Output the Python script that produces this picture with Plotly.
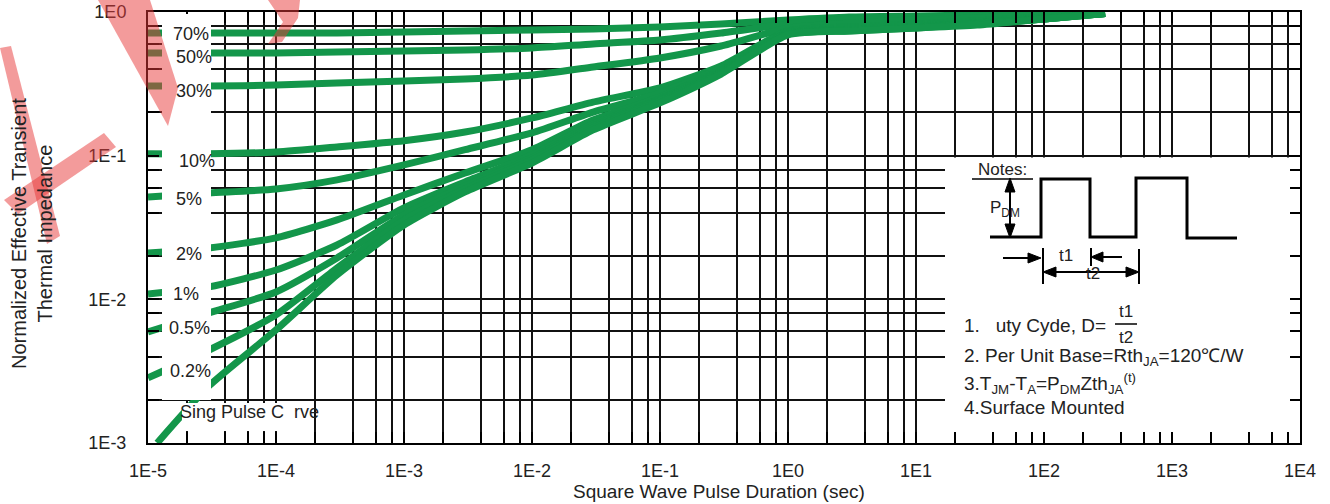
import plotly.graph_objects as go

# ---------------- data ----------------
T = [1e-5, 3e-5, 1e-4, 3e-4, 1e-3, 3e-3, 1e-2, 3e-2, 0.1, 0.3, 1, 3, 10, 30, 100, 300]
T_SINGLE = [1.18e-5, 3e-5, 1e-4, 3e-4, 1e-3, 3e-3, 1e-2, 3e-2, 0.1, 0.3, 1, 3, 10, 30, 100, 300]

Z_70 = [0.714, 0.714, 0.714, 0.714, 0.726, 0.738, 0.749, 0.761, 0.786, 0.825, 0.880, 0.923, 0.938, 0.953, 0.968, 0.975]
Z_50 = [0.519, 0.519, 0.519, 0.527, 0.535, 0.544, 0.562, 0.599, 0.638, 0.714, 0.825, 0.894, 0.923, 0.938, 0.968, 0.975]
Z_30 = [0.305, 0.305, 0.310, 0.321, 0.331, 0.342, 0.364, 0.414, 0.479, 0.580, 0.774, 0.838, 0.880, 0.908, 0.953, 0.975]
Z_10 = [0.103, 0.103, 0.106, 0.115, 0.127, 0.146, 0.183, 0.236, 0.296, 0.421, 0.738, 0.786, 0.825, 0.866, 0.923, 0.975]
Z_5 = [0.0516, 0.0550, 0.0586, 0.0678, 0.0862, 0.110, 0.144, 0.201, 0.273, 0.408, 0.726, 0.774, 0.812, 0.852, 0.908, 0.975]
Z_2 = [0.0210, 0.0228, 0.0268, 0.0357, 0.0533, 0.0758, 0.110, 0.177, 0.256, 0.395, 0.714, 0.761, 0.799, 0.838, 0.908, 0.975]
Z_1 = [0.0109, 0.0122, 0.0160, 0.0239, 0.0433, 0.0656, 0.101, 0.166, 0.248, 0.388, 0.714, 0.749, 0.786, 0.838, 0.894, 0.975]
Z_05 = [0.00593, 0.00804, 0.01126, 0.0194, 0.0387, 0.0615, 0.0964, 0.161, 0.244, 0.382, 0.703, 0.749, 0.786, 0.825, 0.894, 0.975]
Z_02 = [0.00284, 0.00444, 0.00779, 0.0165, 0.0357, 0.0586, 0.0933, 0.156, 0.240, 0.376, 0.703, 0.738, 0.774, 0.825, 0.894, 0.975]
Z_SINGLE = [0.00100, 0.00250, 0.00612, 0.0148, 0.0329, 0.0559, 0.0889, 0.151, 0.233, 0.370, 0.692, 0.738, 0.774, 0.812, 0.894, 0.975]

SERIES = [
    ("70%", T, Z_70), ("50%", T, Z_50), ("30%", T, Z_30), ("10%", T, Z_10),
    ("5%", T, Z_5), ("2%", T, Z_2), ("1%", T, Z_1), ("0.5%", T, Z_05),
    ("0.2%", T, Z_02), ("Single Pulse", T_SINGLE, Z_SINGLE),
]

CURVE_LABELS = ["70%", "50%", "30%", "10%", "5%", "2%", "1%", "0.5%", "0.2%", "Sing Pulse C  rve"]

X_TICK_VALS = [1e-5, 1e-4, 1e-3, 1e-2, 1e-1, 1e0, 1e1, 1e2, 1e3, 1e4]
X_TICK_TEXT = ["1E-5", "1E-4", "1E-3", "1E-2", "1E-1", "1E0", "1E1", "1E2", "1E3", "1E4"]
Y_TICK_VALS = [1e-3, 1e-2, 1e-1, 1e0]
Y_TICK_TEXT = ["1E-3", "1E-2", "1E-1", "1E0"]
X_MINOR = [m * 10.0 ** e for e in range(-5, 4) for m in (2, 4, 6, 8)]
Y_MINOR = [m * 10.0 ** e for e in range(-3, 0) for m in (2, 4, 6, 8)]

X_TITLE = "Square Wave Pulse Duration (sec)"
Y_TITLE = "Normalized Effective Transient<br>Thermal Impedance"

NOTES = [
    "1.   uty Cyde, D=",
    "2. Per Unit Base=Rth<sub>JA</sub>=120℃/W",
    "3.T<sub>JM</sub>-T<sub>A</sub>=P<sub>DM</sub>Zth<sub>JA</sub><sup>(t)</sup>",
    "4.Surface Mounted",
]

# ---------------- styling / layout ----------------
W, H = 1330, 504
L, R, TOP, BOT = 148, 1300, 12, 443
GREEN = "#13964a"
FONT = "Liberation Sans, Arial, sans-serif"
TXT = "#222222"


def PX(x):
    return (x - L) / (R - L)


def PY(y):
    return (BOT - y) / (BOT - TOP)


fig = go.Figure()
for name, xs, ys in SERIES:
    fig.add_trace(go.Scatter(x=xs, y=ys, mode="lines", name=name,
                             line=dict(color=GREEN, width=7, shape="spline", smoothing=0.6),
                             hoverinfo="skip", showlegend=False))

shapes = []


def rect(x0, x1, y0, y1):
    shapes.append(dict(type="rect", xref="paper", yref="paper", x0=PX(x0), x1=PX(x1), y0=PY(y1), y1=PY(y0),
                       fillcolor="white", line=dict(width=0), layer="above"))


rect(162, 211, 14, 400)      # column behind the duty labels
rect(182, 292, 403, 431)     # behind the single pulse label
rect(945, 1290, 157.5, 432)  # notes box


def path(points, closed=False):
    s = "M " + " L ".join(f"{PX(x):.5f},{PY(y):.5f}" for x, y in points)
    return s + (" Z" if closed else "")


def line(points, width=2):
    shapes.append(dict(type="path", xref="paper", yref="paper", path=path(points),
                       line=dict(color="black", width=width), layer="above"))


def tri(points):
    shapes.append(dict(type="path", xref="paper", yref="paper", path=path(points, True),
                       fillcolor="black", line=dict(color="black", width=1), layer="above"))


# pulse waveform
line([(990, 237), (1041, 237), (1041, 179), (1090, 179), (1090, 237), (1136, 237),
      (1136, 178), (1187, 178), (1187, 238), (1237, 238)], width=3)
# P_DM double arrow
line([(1010, 188), (1010, 228)], 2)
tri([(1005, 192), (1015, 192), (1010, 178)])
tri([(1005, 224), (1015, 224), (1010, 238)])
# t1 markers
line([(1003, 258), (1030, 258)], 2)
tri([(1028, 253), (1028, 263), (1041, 258)])
line([(1043, 248), (1043, 284)], 2)
line([(1102, 257), (1122, 257)], 2)
tri([(1103, 252), (1103, 262), (1091, 257)])
line([(1091, 248), (1091, 266)], 2)
# t2 double arrow
line([(1052, 272), (1130, 272)], 2)
tri([(1043, 272), (1056, 267), (1056, 277)])
tri([(1139, 272), (1126, 267), (1126, 277)])
line([(1139, 249), (1139, 284)], 2)
# Notes underline and fraction bar
line([(972, 179), (1033, 179)], 1.5)
line([(1115, 324), (1137, 324)], 1.5)

# watermark strokes
WM = "rgba(232,55,55,0.5)"
for poly in [
    [(0, 48), (11, 46), (60, 236), (47, 244)],
    [(98, 0), (150, 0), (178, 88), (168, 126)],
    [(104, 133), (116, 147), (18, 214), (4, 200)],
    [(268, 0), (300, 0), (298, 18), (282, 42), (268, 44), (283, 22)],
]:
    shapes.append(dict(type="path", xref="paper", yref="paper", path=path(poly, True),
                       fillcolor=WM, line=dict(width=0), layer="above"))

ann = []
LABEL_POS = [(191, 34), (194, 57), (194, 91), (197, 161), (189, 199), (189, 254),
             (186, 294), (189, 328), (190, 371), (249, 412)]
for text, (x, y) in zip(CURVE_LABELS, LABEL_POS):
    ann.append(dict(text=text, x=PX(x), y=PY(y), xref="paper", yref="paper", showarrow=False,
                    font=dict(size=18, color=TXT, family=FONT), xanchor="center", yanchor="middle"))

# notes texts
SMALL = dict(size=17, color=TXT, family=FONT)
for text, x, y in [("Notes:", 1002, 170), ("P<sub>DM</sub>", 1005, 209), ("t1", 1066, 255),
                   ("t2", 1093, 273), ("t1", 1126, 311), ("t2", 1126, 337)]:
    ann.append(dict(text=text, x=PX(x), y=PY(y), xref="paper", yref="paper", showarrow=False,
                    font=SMALL, xanchor="center", yanchor="middle"))
for text, y in zip(NOTES, [325, 357, 383, 407]):
    ann.append(dict(text=text, x=PX(962), y=PY(y), xref="paper", yref="paper", showarrow=False,
                    font=dict(size=19, color=TXT, family=FONT), xanchor="left", yanchor="middle"))

# axis titles
ann.append(dict(text=X_TITLE, x=PX(719), y=PY(491), xref="paper", yref="paper", showarrow=False,
                font=dict(size=19, color=TXT, family=FONT), xanchor="center", yanchor="middle"))
ann.append(dict(text=Y_TITLE, x=PX(32), y=PY(234), xref="paper", yref="paper", showarrow=False,
                textangle=-90, font=dict(size=20, color=TXT, family=FONT),
                xanchor="center", yanchor="middle"))

axis_common = dict(
    type="log", ticks="inside", ticklen=11, tickwidth=1.5, tickcolor="black",
    showline=True, linecolor="black", linewidth=2, mirror="ticks",
    showgrid=True, gridcolor="#111111", gridwidth=1.6, zeroline=False,
    tickfont=dict(size=18, color=TXT, family=FONT),
)

fig.update_layout(
    width=W, height=H,
    margin=dict(l=L, r=W - R, t=TOP, b=H - BOT, autoexpand=False),
    paper_bgcolor="white", plot_bgcolor="white",
    xaxis=dict(range=[-5, 4], tickmode="array", tickvals=X_TICK_VALS, ticktext=X_TICK_TEXT,
               ticklabelstandoff=10,
               minor=dict(tickmode="array", tickvals=X_MINOR, ticks="inside", ticklen=11, tickwidth=1.5,
                          tickcolor="black", showgrid=True, gridcolor="#111111", gridwidth=1.6),
               **axis_common),
    yaxis=dict(range=[-3, 0], tickmode="array", tickvals=Y_TICK_VALS, ticktext=Y_TICK_TEXT,
               ticklabelstandoff=16,
               minor=dict(tickmode="array", tickvals=Y_MINOR, ticks="inside", ticklen=11, tickwidth=1.5,
                          tickcolor="black", showgrid=True, gridcolor="#111111", gridwidth=1.6),
               **axis_common),
    shapes=shapes,
    annotations=ann,
    showlegend=False,
)

fig.write_html("out.html")
